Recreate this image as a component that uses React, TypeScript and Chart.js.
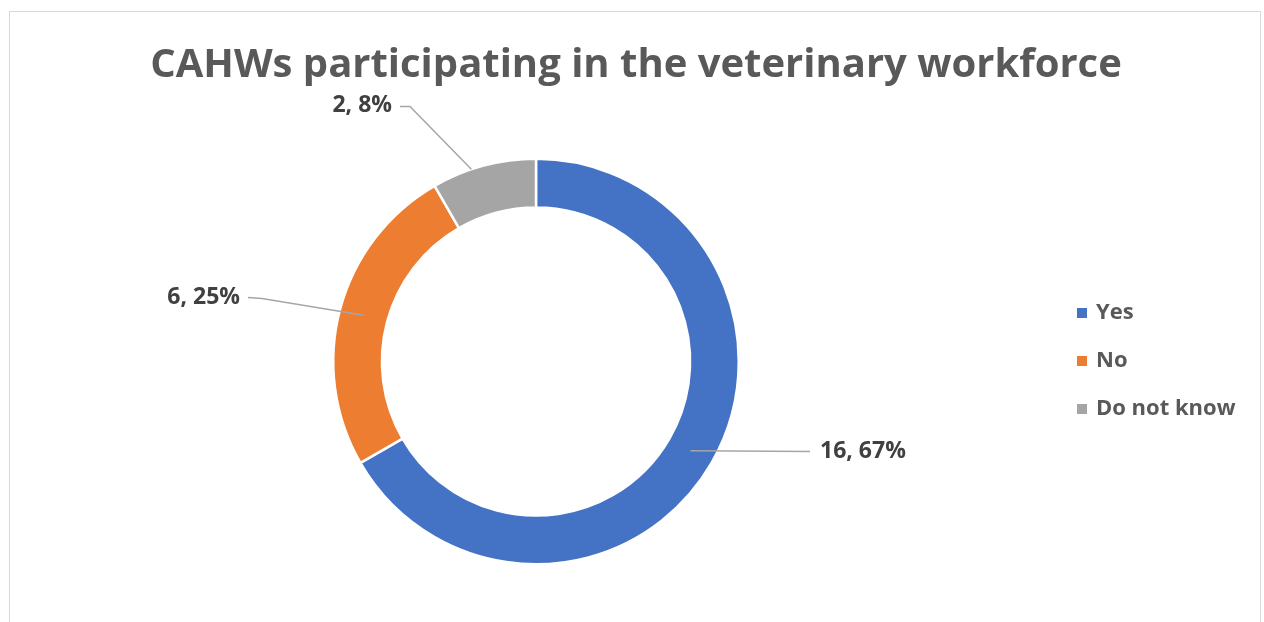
import React, { useEffect, useRef } from "react";
import Chart from "chart.js/auto";

const TITLE = "CAHWs participating in the veterinary workforce";
const categories = ["Yes", "No", "Do not know"];
const counts = [16, 6, 2];
const percentLabels = ["67%", "25%", "8%"];
const colors = ["#4472C4", "#ED7D31", "#A5A5A5"];

// label layout (offsets from pie centre) — styling/position only
const labelLayout = [
  { anchorFrac: 0.5, angleFrac: 0.5, elbow: [274, 90], text: [284, 90], align: "left" },
  { anchorFrac: 0.5, angleFrac: 0.5, elbow: [-274, -63], end: [-288, -64], text: [-296, -64], align: "right" },
  { anchorFrac: 1.0, angleFrac: 0.38, elbow: [-126, -255], end: [-136, -255], text: [-144, -256], align: "right" },
];

const FONT = "'Open Sans', Lato, sans-serif";

const overlayPlugin = {
  id: "overlay",
  afterDraw(chart: any) {
    const ctx = chart.ctx;
    ctx.save();
    // title
    ctx.fillStyle = "#595959";
    ctx.font = `bold 40px ${FONT}`;
    ctx.textAlign = "center";
    ctx.textBaseline = "alphabetic";
    ctx.fillText(TITLE, 636, 77);

    // data labels with leader lines
    const meta = chart.getDatasetMeta(0);
    meta.data.forEach((arc: any, i: number) => {
      const p = arc.getProps(["x", "y", "startAngle", "endAngle", "innerRadius", "outerRadius"], true);
      const L = labelLayout[i];
      const ang = p.startAngle + (p.endAngle - p.startAngle) * L.angleFrac;
      const r = p.innerRadius + (p.outerRadius - p.innerRadius) * L.anchorFrac;
      const ax = p.x + Math.cos(ang) * r;
      const ay = p.y + Math.sin(ang) * r;
      ctx.strokeStyle = "#A6A6A6";
      ctx.lineWidth = 1.5;
      ctx.beginPath();
      ctx.moveTo(ax, ay);
      ctx.lineTo(p.x + L.elbow[0], p.y + L.elbow[1]);
      if ((L as any).end) ctx.lineTo(p.x + (L as any).end[0], p.y + (L as any).end[1]);
      ctx.stroke();
      ctx.fillStyle = "#404040";
      ctx.font = `bold 23px ${FONT}`;
      ctx.textAlign = L.align as CanvasTextAlign;
      ctx.textBaseline = "middle";
      ctx.fillText(`${counts[i]}, ${percentLabels[i]}`, p.x + L.text[0], p.y + L.text[1]);
    });

    // legend
    ctx.font = `bold 22px ${FONT}`;
    ctx.textAlign = "left";
    ctx.textBaseline = "middle";
    categories.forEach((c, i) => {
      const cy = 313 + i * 48;
      ctx.fillStyle = colors[i];
      ctx.fillRect(1077, cy - 5, 10, 10);
      ctx.fillStyle = "#595959";
      ctx.fillText(c, 1096, cy);
    });
    ctx.restore();
  },
};

export default function App() {
  const ref = useRef<HTMLCanvasElement>(null);
  useEffect(() => {
    if (!ref.current) return;
    const chart = new Chart(ref.current, {
      type: "doughnut",
      data: {
        labels: categories,
        datasets: [
          {
            data: counts,
            backgroundColor: colors,
            borderColor: "#ffffff",
            borderWidth: 2.5,
          },
        ],
      },
      options: {
        responsive: false,
        animation: false,
        devicePixelRatio: 1,
        cutout: "76%",
        layout: { padding: { left: 332, right: 524, top: 157, bottom: 56 } },
        plugins: {
          legend: { display: false },
          title: { display: false },
          tooltip: { enabled: false },
        },
      },
      plugins: [overlayPlugin],
    });
    return () => chart.destroy();
  }, []);
  return (
    <div>
      <div
        style={{
          position: "fixed",
          left: 9,
          top: 11,
          width: 1252,
          height: 700,
          border: "1.5px solid #d9d9d9",
          boxSizing: "border-box",
        }}
      />
      <canvas
        ref={ref}
        width={1264}
        height={622}
        style={{ position: "fixed", left: 0, top: 0, width: 1264, height: 622 }}
      />
    </div>
  );
}
